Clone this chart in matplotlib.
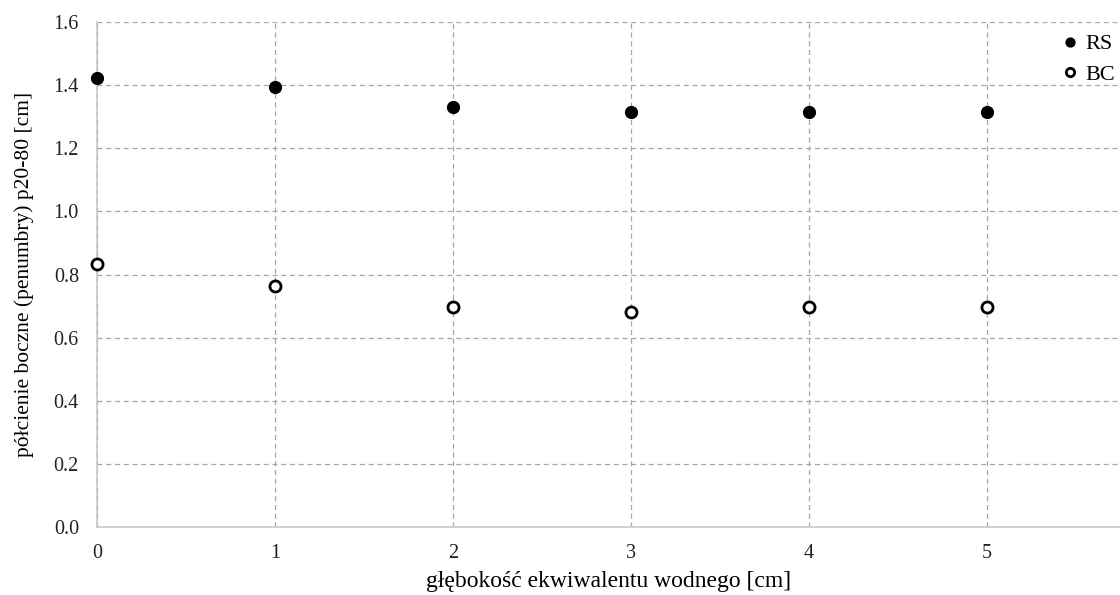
import numpy as np
import matplotlib.pyplot as plt

# Data
depth = [0, 1, 2, 3, 4, 5]
rs = [1.423, 1.394, 1.331, 1.315, 1.315, 1.315]
bc = [0.833, 0.764, 0.697, 0.681, 0.697, 0.697]
yticks = [0.0, 0.2, 0.4, 0.6, 0.8, 1.0, 1.2, 1.4, 1.6]

plt.rcParams['font.family'] = ['Liberation Serif', 'DejaVu Serif']

fig = plt.figure(figsize=(11.2, 5.95), dpi=100)
ax = fig.add_axes([97 / 1120, 1 - 527 / 595, 1 - 97 / 1120, (527 - 22) / 595])

ax.plot(depth, rs, 'o', color='black', markersize=8.5, label='RS', clip_on=False, zorder=3)
ax.plot(depth, bc, 'o', markerfacecolor='white', markeredgecolor='black',
        markeredgewidth=2, markersize=8, label='BC', clip_on=False, zorder=3)

ax.set_xlim(0, 5.75)
ax.set_ylim(0, 1.6)
ax.set_xticks(depth)
ax.set_yticks(yticks)
ax.set_yticklabels(['{:.1f}'.format(v) for v in yticks])
ax.tick_params(length=0, labelsize=14.5, colors='#222222')
ax.tick_params(axis='y', pad=13)
ax.tick_params(axis='x', pad=12)

ax.grid(True, linestyle=(0, (4, 3)), color='#a6a6a6', linewidth=0.9)
ax.set_axisbelow(True)
for s in ['top', 'right']:
    ax.spines[s].set_visible(False)
for s in ['left', 'bottom']:
    ax.spines[s].set_color('#c8c8c8')
    ax.spines[s].set_linewidth(1.2)

ax.set_ylabel('półcienie boczne (penumbry) p20-80 [cm]', fontsize=15.5, labelpad=14)
ax.set_xlabel('głębokość ekwiwalentu wodnego [cm]', fontsize=17, labelpad=6)

leg = ax.legend(loc='upper right', bbox_to_anchor=(1.004, 0.994), frameon=False,
                handletextpad=-0.3, labelspacing=0.45, fontsize=16,
                markerscale=0.75, borderaxespad=0)

fig.savefig('out.png', dpi=100)
